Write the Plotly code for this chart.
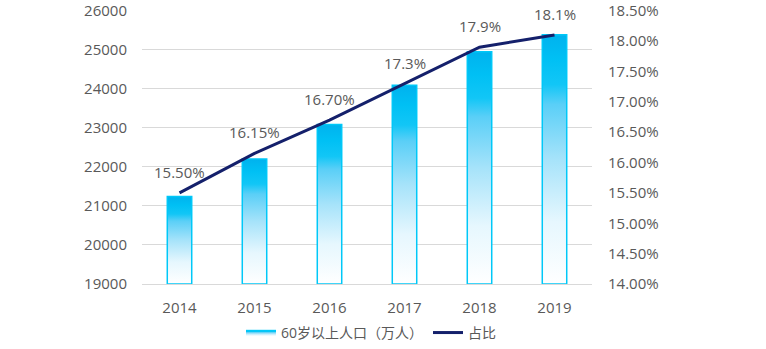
import plotly.graph_objects as go

years = ["2014", "2015", "2016", "2017", "2018", "2019"]
population = [21242, 22200, 23086, 24090, 24949, 25388]  # 60岁以上人口（万人）
share = [15.50, 16.15, 16.70, 17.30, 17.90, 18.10]        # 占比（%）
share_labels = ["15.50%", "16.15%", "16.70%", "17.3%", "17.9%", "18.1%"]

pop_ticks = [19000, 20000, 21000, 22000, 23000, 24000, 25000, 26000]
share_ticks = [14.0, 14.5, 15.0, 15.5, 16.0, 16.5, 17.0, 17.5, 18.0, 18.5]

BASE = 19000
HALF_W = 0.163
NAVY = "#14206B"
GRAY = "#595959"
FONT = "Open Sans, Noto Sans CJK SC"

BAR_GRADIENT = [
    [0.0, "#FFFFFF"], [0.25, "#E6F7FE"], [0.5, "#A6E3FA"],
    [0.72, "#5ACFF7"], [0.8, "#12C6F6"], [0.9, "#00C0F4"], [1.0, "#00B2EE"],
]

fig = go.Figure()

# Each column is a filled outline with a vertical white-to-cyan gradient
for i, v in enumerate(population):
    xs = [i - HALF_W, i - HALF_W, i + HALF_W, i + HALF_W, i - HALF_W]
    ys = [BASE, v, v, BASE, BASE]
    fig.add_trace(go.Scatter(
        x=xs, y=ys, mode="lines", fill="toself",
        line=dict(color="#00C8F8", width=1.5),
        fillgradient=dict(type="vertical", colorscale=BAR_GRADIENT),
        name="60岁以上人口（万人）", legendgroup="pop",
        showlegend=(i == 0), hoverinfo="skip", yaxis="y",
    ))

fig.add_trace(go.Scatter(
    x=list(range(len(years))), y=share, mode="lines",
    line=dict(color=NAVY, width=3),
    name="占比", yaxis="y2", hoverinfo="skip",
))

# Percentage labels above each point of the line
for i, (v, lab) in enumerate(zip(share, share_labels)):
    fig.add_annotation(
        x=i, y=v, xref="x", yref="y2", text=lab, showarrow=False,
        yshift=21, yanchor="middle",
        font=dict(size=15, color=GRAY, family=FONT),
    )

fig.update_layout(
    width=766, height=349,
    margin=dict(l=142, r=174, t=10, b=65, autoexpand=False),
    paper_bgcolor="white", plot_bgcolor="white",
    font=dict(family=FONT, size=15, color=GRAY),
    xaxis=dict(
        range=[-0.5, len(years) - 0.5], automargin=False,
        tickvals=list(range(len(years))), ticktext=years,
        showgrid=False, zeroline=False, showline=True,
        linecolor="#D9D9D9", linewidth=1, ticks="",
        ticklabelstandoff=10,
        tickfont=dict(size=15, color=GRAY),
    ),
    yaxis=dict(
        range=[19000, 26020], tickvals=pop_ticks, automargin=False,
        ticktext=[str(t) for t in pop_ticks], ticklabeloverflow="allow",
        showgrid=True, gridcolor="#D9D9D9", gridwidth=1,
        zeroline=False, showline=False, ticks="",
        ticklabelstandoff=14,
        tickfont=dict(size=15, color=GRAY),
    ),
    yaxis2=dict(
        range=[14.0, 18.5129], tickvals=share_ticks, automargin=False,
        ticktext=[f"{t:.2f}%" for t in share_ticks], ticklabeloverflow="allow",
        overlaying="y", side="right",
        showgrid=False, zeroline=False, showline=False, ticks="",
        ticklabelstandoff=15,
        tickfont=dict(size=15, color=GRAY),
    ),
    legend=dict(
        orientation="h", x=0.51, xanchor="center",
        yref="container", y=0.046, yanchor="middle",
        font=dict(size=14, color=GRAY), itemwidth=30,
        traceorder="normal",
    ),
    showlegend=True,
)

fig.write_html("out.html")
